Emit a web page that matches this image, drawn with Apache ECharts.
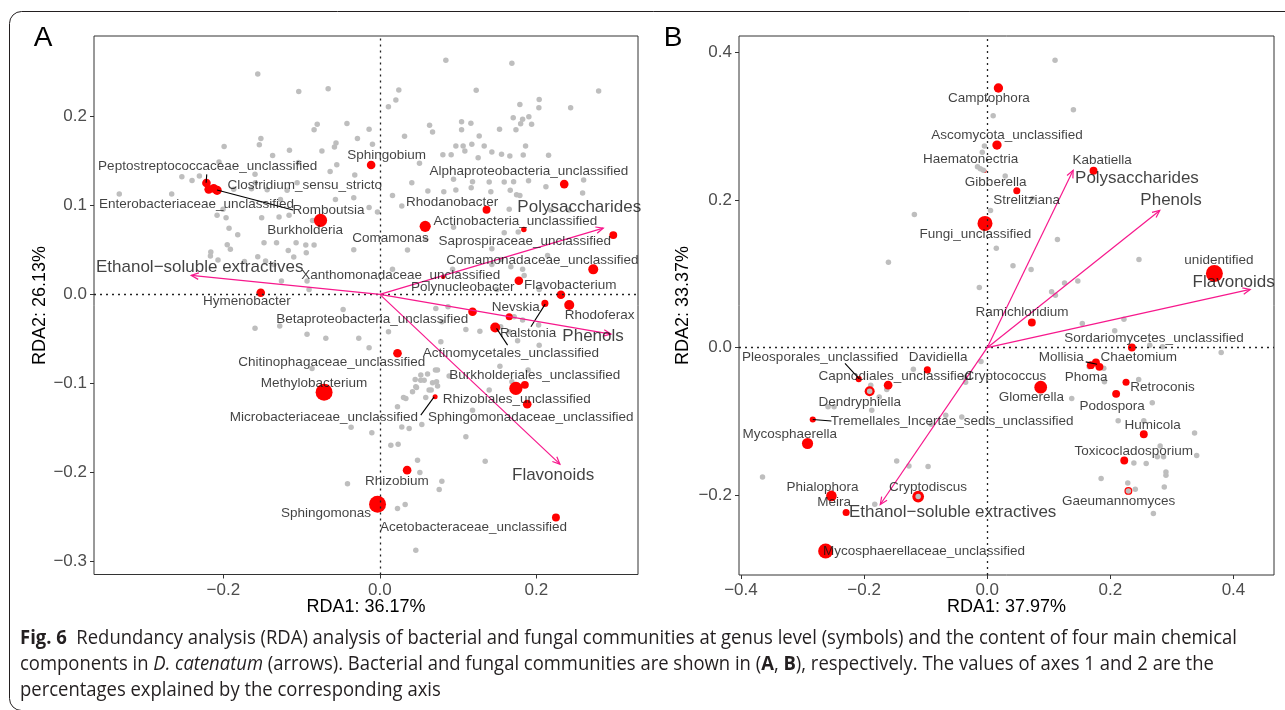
<!DOCTYPE html>
<html><head><meta charset="utf-8">
<script src="https://cdn.jsdelivr.net/npm/echarts@6/dist/echarts.min.js"></script>
<style>html,body{margin:0;padding:0;background:#fff}#c{width:1285px;height:710px}</style>
</head><body><div id="c"></div>
<script>
// ---------------- Panel A (bacteria) ----------------
const grayAx = [-0.156,-0.1036,-0.066,-0.080,-0.084,-0.042,-0.152,-0.154,-0.199,-0.056,-0.058,-0.0286,-0.1155,-0.137,-0.104,-0.074,-0.055,-0.0635,-0.032,-0.2055,-0.253,-0.240,-0.2306,-0.1595,-0.159,-0.333,-0.266,-0.213,-0.1867,-0.164,-0.144,-0.1185,-0.1057,-0.0567,-0.0333,-0.127,-0.208,-0.2004,-0.1965,-0.1927,-0.1816,-0.151,-0.1288,-0.116,-0.086,-0.195,-0.191,-0.216,-0.2165,-0.2068,-0.148,-0.132,-0.117,-0.107,-0.0946,-0.084,-0.094,-0.110,-0.156,-0.146,-0.173,-0.1257,-0.0904,-0.0333,-0.1355,-0.093,
0.0844,0.1688,0.0243,0.0205,0.011,0.1232,0.2797,0.2037,0.2033,0.179,0.2439,0.1705,0.1825,0.1905,0.180,0.194,0.174,0.153,0.1164,0.1045,0.0636,0.1045,0.0674,0.0316,0.0972,0.1065,0.1176,0.1087,0.0912,0.0806,0.1257,0.1334,0.1432,0.1556,0.1662,0.1833,0.1863,0.2157,0.0507,0.0409,0.0942,0.1185,0.1398,0.159,0.171,0.1901,0.2123,0.2605,0.2592,0.0614,0.0818,0.0972,0.1168,0.1419,0.1667,0.1748,0.179,0.0162,0.0281,-0.0137,-0.003,0.1654,0.2187,0.2417,0.0942,0.159,0.1769,0.0588,0.0354,0.1432,0.2144,0.1547,0.1675,0.1432,0.1825,0.1845,0.093,0.0162,0.1496,0.2037,-0.0137,-0.0094,0.127,
-0.0469,-0.1595,-0.1279,-0.093,-0.069,-0.0269,-0.0866,-0.0367,-0.0413,
0.0716,0.110,0.1279,0.0111,-0.0137,0.1761,0.2037,0.1825,0.1717,0.1654,0.1535,0.0737,0.061,0.0524,0.0452,0.0567,0.0674,0.0725,0.046,0.063,0.0418,0.0303,0.0886,0.1398,0.1688,0.1185,0.0226,0.0537,0.0281,0.0375,-0.0102,0.0141,0.0234,0.110,0.0482,0.1347,0.0512,0.0793,0.0759,0.0226,0.0324,0.046,0.078,
0.0523,0.0469,0.0657,0.0738,0.0587,0.0711,0.0333,0.203,0.1545,0.1895,0.0872,0.0793];
const grayAy = [0.2475,0.228,0.231,0.191,0.185,0.192,0.175,0.168,0.166,0.170,0.1655,0.175,0.162,0.156,0.148,0.161,0.1456,0.138,0.134,0.1487,0.132,0.128,0.133,0.135,0.1254,0.1127,0.1127,0.1187,0.118,0.1187,0.1175,0.117,0.1254,0.1067,0.1085,0.1067,0.0888,0.0955,0.086,0.0742,0.067,0.086,0.0869,0.089,0.083,0.0557,0.0506,0.0475,0.043,0.0385,0.058,0.058,0.0494,0.058,0.0554,0.0554,0.0467,0.042,0.0422,0.0374,0.037,0.0149,0.0056,0.050,0.0337,0.0149,
0.263,0.2596,0.2295,0.2183,0.2108,0.2292,0.2284,0.219,0.2097,0.2134,0.2097,0.1984,0.1966,0.1996,0.1917,0.191,0.185,0.1854,0.1921,0.194,0.1899,0.1849,0.1824,0.1775,0.1666,0.1666,0.1685,0.161,0.1569,0.1569,0.1535,0.1666,0.1599,0.1573,0.1554,0.1565,0.1666,0.1562,0.1472,0.1254,0.1292,0.1265,0.1262,0.1262,0.1265,0.1277,0.1209,0.1284,0.1138,0.1161,0.1153,0.1172,0.1198,0.1153,0.1169,0.112,0.1112,0.1112,0.0992,0.0977,0.0925,0.0955,0.0947,0.0947,0.0753,0.0692,0.070,0.0618,0.0498,0.0512,0.0438,0.0393,0.031,0.0337,0.0281,0.0213,0.0281,0.0281,0.0056,0.0056,0.1854,0.1685,0.1779,
-0.0169,-0.0379,-0.0356,-0.0449,-0.0494,-0.0494,-0.0831,-0.1491,-0.2128,
-0.0158,-0.0393,-0.0413,-0.042,-0.060,-0.0521,-0.057,-0.0289,-0.0251,-0.042,-0.0806,-0.085,-0.0895,-0.0906,-0.0955,-0.0963,-0.0993,-0.0982,-0.1038,-0.1075,-0.1094,-0.1157,-0.0918,-0.1075,-0.0982,-0.130,-0.1263,-0.146,-0.1488,-0.1506,-0.1555,-0.1693,-0.1682,-0.160,-0.1862,-0.1873,-0.200,-0.2098,-0.2191,-0.2404,-0.236,-0.2873,-0.0533,
-0.0963,-0.1045,-0.1075,-0.103,-0.1157,-0.085,-0.1169,-0.0345,-0.0364,-0.085,-0.0139,-0.0307];

const redAnames = ['Peptostreptococcaceae_unclassified','Enterobacteriaceae_unclassified','Clostridium_sensu_stricto','Romboutsia','Burkholderia','Hymenobacter','Sphingobium','Alphaproteobacteria_unclassified','Rhodanobacter','Comamonas','Actinobacteria_unclassified','Saprospiraceae_unclassified','Comamonadaceae_unclassified','Xanthomonadaceae_unclassified','Polynucleobacter','Flavobacterium','Nevskia','Ralstonia','Rhodoferax','Betaproteobacteria_unclassified','Actinomycetales_unclassified','Chitinophagaceae_unclassified','Methylobacterium','Burkholderiales_unclassified','Rhizobiales_unclassified','Sphingomonadaceae_unclassified','Microbacteriaceae_unclassified','Rhizobium','Sphingomonas','Acetobacteraceae_unclassified'];
const redAx = [-0.2216,-0.2187,-0.2123,-0.2080,-0.0758,-0.1522,-0.0111,0.2357,0.1364,0.058,0.1841,0.2984,0.2728,0.081,0.1777,0.2315,0.1654,0.211,0.2421,0.1185,0.1475,0.0226,-0.0712,0.1739,0.1854,0.1884,0.0707,0.0349,-0.0029,0.2251];
const redAy = [0.1251,0.118,0.1191,0.1169,0.0831,0.0018,0.1453,0.1239,0.0951,0.0764,0.073,0.0666,0.0281,0.0198,0.0153,-0.0004,-0.0251,-0.0101,-0.012,-0.0195,-0.0371,-0.0661,-0.1098,-0.1056,-0.1016,-0.1233,-0.115,-0.1974,-0.2356,-0.2506];
const redAabund = [3,3,3,3.5,7,3,3,3,2.5,5,1.2,2.5,4,0.8,3,3,2,2,4,3,4,3,11.5,7,2.5,3,1,3,11.5,2.5];
const labAx = [-0.22,-0.2343,-0.0959,-0.0656,-0.0955,-0.170,0.0087,0.1905,0.0925,0.0136,0.1733,0.1852,0.2078,0.0267,0.1061,0.2434,0.1739,0.1895,0.281,-0.0096,0.1675,-0.0614,-0.0841,0.198,0.175,0.1929,-0.0715,0.0217,-0.0688,0.1198];
const labAy = [0.1434,0.1011,0.1228,0.0944,0.0719,-0.0075,0.1562,0.1385,0.104,0.0625,0.0816,0.0591,0.0385,0.0217,0.0079,0.0104,-0.0146,-0.0438,-0.0233,-0.0278,-0.0656,-0.0768,-0.0993,-0.091,-0.1173,-0.1382,-0.1375,-0.2094,-0.2461,-0.2611];
const leaderA = [[-0.2212,0.1348,-0.2220,0.1254],[-0.2081,0.1172,-0.1109,0.0947],[0.2114,-0.0109,0.1931,-0.0364],[0.1492,-0.0382,0.1633,-0.057],[0.0694,-0.1151,0.0524,-0.1356]];

const envNames = ['Ethanol\u2212soluble extractives','Polysaccharides','Phenols','Flavonoids'];
const envAx = [-0.241,0.2856,0.2954,0.2302];
const envAy = [0.0213,0.0745,-0.0446,-0.1907];
const envLabAx = [-0.2302,0.2549,0.2726,0.2215];
const envLabAy = [0.0307,0.0978,-0.0476,-0.203];

// ---------------- Panel B (fungi) ----------------
const grayBx = [0.1102,0.140,0.0097,-0.0045,-0.008,-0.0158,-0.0112,0.0292,0.0736,0.0054,-0.1183,0.1141,0.0148,-0.1604,0.2465,0.0419,0.0713,0.1472,0.1256,-0.0128,0.1046,0.1108,
0.1545,0.2071,0.2221,0.2847,0.264,0.380,-0.0101,-0.1199,0.1656,0.1894,0.1904,0.246,-0.1891,-0.1753,-0.1631,-0.0351,-0.0367,-0.0673,-0.0413,-0.0911,-0.1875,-0.2585,-0.2486,0.1373,0.2681,0.2127,0.2543,0.3368,0.2809,0.2864,0.2763,0.3402,0.2382,0.2582,0.2903,0.2903,0.185,0.2283,0.2405,0.2876,0.2699,-0.3649,-0.147,-0.1271,-0.096,-0.1826];
const grayBy = [0.3894,0.3224,0.3143,0.2732,0.2647,0.2452,0.2425,0.2325,0.2023,0.186,0.1806,0.1467,0.1349,0.1159,0.1196,0.1109,0.106,0.0902,0.0875,0.0816,0.0757,0.0712,
0.0328,0.0228,0.0386,0.0011,0.0034,-0.0065,-0.0187,-0.0292,-0.026,-0.0278,-0.0463,-0.0431,-0.0508,-0.0667,-0.0567,-0.0468,-0.0404,-0.0915,-0.0938,-0.1037,-0.0847,-0.0802,-0.0802,-0.0689,-0.0748,-0.0992,-0.0992,-0.1155,-0.1331,-0.148,-0.148,-0.1462,-0.1562,-0.157,-0.1684,-0.1729,-0.1774,-0.1833,-0.1919,-0.1887,-0.2248,-0.1752,-0.1535,-0.1603,-0.1611,-0.2122];
// grey genera that sit on top of a red one (drawn above it)
const grayTopBx = [-0.0062,-0.1909,-0.1121,0.2293];
const grayTopBy = [0.2403,-0.059,-0.2018,-0.1941];

const redBnames = ['Camptophora','Ascomycota_unclassified','Haematonectria','Gibberella','Kabatiella','Strelitziana','Fungi_unclassified','unidentified','Ramichloridium','Sordariomycetes_unclassified','Mollisia','Chaetomium','Phoma','Retroconis','Podospora','Humicola','Toxicocladosporium','Gaeumannomyces','Glomerella','Davidiella','Cryptococcus','Capnodiales_unclassified','Pleosporales_unclassified','Dendryphiella','Tremellales_Incertae_sedis_unclassified','Mycosphaerella','Phialophora','Meira','Cryptodiscus','Mycosphaerellaceae_unclassified'];
const redBx = [0.0182,0.0159,-0.0062,-0.004,0.1727,0.0481,-0.0036,0.369,0.0725,0.235,0.1766,0.1823,0.1683,0.2255,0.2094,0.2543,0.2226,0.2293,0.0869,-0.0972,-0.0101,-0.1609,-0.2086,-0.1909,-0.2833,-0.2918,-0.253,-0.2291,-0.1121,-0.2624];
const redBy = [0.3519,0.2746,0.2403,0.2393,0.2397,0.2126,0.1684,0.1006,0.0341,0.0003,-0.0201,-0.026,-0.0237,-0.0468,-0.0626,-0.1173,-0.153,-0.1941,-0.0536,-0.0301,-0.0187,-0.0508,-0.0427,-0.059,-0.0974,-0.1299,-0.2009,-0.2235,-0.2018,-0.2755];
const redBabund = [3.5,3.5,0.6,0.6,2.5,2,9,11.5,2.5,2.5,2.5,2.5,2.5,2,2.5,2.5,2.5,2.5,6.5,2,0,3,1.5,4,1.5,5,4.5,2,5.5,9];
const labBx = [0.0029,0.0323,-0.027,0.0137,0.1867,0.0642,-0.0193,0.3763,0.0566,0.2709,0.1202,0.246,0.1608,0.2847,0.2029,0.2687,0.2381,0.2135,0.0718,-0.0797,0.0297,-0.1495,-0.2713,-0.207,-0.057,-0.3208,-0.2676,-0.2487,-0.0963,-0.1027];
const labBy = [0.3379,0.2881,0.2552,0.2248,0.2542,0.1991,0.1543,0.1186,0.0477,0.0125,-0.0133,-0.0133,-0.0404,-0.0531,-0.0789,-0.1051,-0.1399,-0.2081,-0.0667,-0.0133,-0.0386,-0.0386,-0.0133,-0.0735,-0.0992,-0.1173,-0.1887,-0.2099,-0.1896,-0.2755];
const leaderB = [[-0.231,-0.0214,-0.2078,-0.0423],[-0.2833,-0.0974,-0.253,-0.0993],[0.16,-0.0193,0.1784,-0.0224]];

const envBx = [-0.1737,0.1396,0.2803,0.4271];
const envBy = [-0.2126,0.2403,0.186,0.0789];
const envLabBx = [-0.0561,0.2432,0.2986,0.4003];
const envLabBy = [-0.2235,0.2289,0.2,0.0879];

// tick labels
const ticksAx = [-0.2,0,0.2];
const ticksAy = [-0.3,-0.2,-0.1,0,0.1,0.2];
const ticksBx = [-0.4,-0.2,0,0.2,0.4];
const ticksBy = [-0.2,0,0.2,0.4];
const axisTitles = {ax:'RDA1: 36.17%', ay:'RDA2: 26.13%', bx:'RDA1: 37.97%', by:'RDA2: 33.37%'};

// ---------------- chart ----------------
const PINK = '#f7188c', GREY = '#bebebe', RED = '#ff0000';
const FF = '"Liberation Sans", Arial, sans-serif';
function fmt(v){ const s = Math.abs(v).toFixed(1); return (v < -1e-9 ? '\u2212' : '') + s; }
function zip(xs, ys){ return xs.map((x,i)=>[x, ys[i]]); }
function mkAxis(gi, min, max, ticks){
  return {gridIndex:gi, type:'value', min, max, scale:true,
    axisLine:{show:false, onZero:false}, splitLine:{show:false},
    axisTick:{show:true, length:4, lineStyle:{color:'#333', width:1}, customValues:ticks},
    axisLabel:{customValues:ticks, formatter:fmt, color:'#4d4d4d', fontSize:17, fontFamily:FF, margin:7}};
}
function graySeries(i, xs, ys, z){
  return {type:'scatter', xAxisIndex:i, yAxisIndex:i, z:z||2, silent:true, symbolSize:5.5,
    itemStyle:{color:GREY, opacity:1}, data:zip(xs, ys),
    markLine: z ? undefined : {silent:true, symbol:'none', label:{show:false}, animation:false,
      lineStyle:{color:'#222', type:[2,4], width:1.3}, data:[{xAxis:0},{yAxis:0}]}};
}
function redSeries(i, names, xs, ys, ab){
  return {type:'scatter', xAxisIndex:i, yAxisIndex:i, z:3, silent:true, itemStyle:{color:RED, opacity:1},
    data: xs.map((x,k)=>({name:names[k], value:[x, ys[k]], symbolSize:5*Math.sqrt(ab[k])}))};
}
function labelSeries(i, names, xs, ys, size){
  return {type:'scatter', xAxisIndex:i, yAxisIndex:i, z:7, silent:true, symbolSize:1,
    itemStyle:{color:'rgba(0,0,0,0)'},
    label:{show:true, position:'inside', formatter:'{b}', color:'#111', fontSize:size, fontFamily:FF},
    data: xs.map((x,k)=>({name:names[k], value:[x, ys[k]]}))};
}
function leaderSeries(i, segs){
  return {type:'custom', xAxisIndex:i, yAxisIndex:i, z:4, silent:true, data:segs,
    renderItem(p, api){
      const a = api.coord([api.value(0), api.value(1)]), b = api.coord([api.value(2), api.value(3)]);
      return {type:'line', shape:{x1:a[0], y1:a[1], x2:b[0], y2:b[1]}, style:{stroke:'#000', lineWidth:1.1}};
    }};
}
function arrowSeries(i, xs, ys){
  return {type:'custom', xAxisIndex:i, yAxisIndex:i, z:5, silent:true, data:zip(xs, ys),
    renderItem(p, api){
      const o = api.coord([0,0]), t = api.coord([api.value(0), api.value(1)]);
      const ang = Math.atan2(t[1]-o[1], t[0]-o[0]), L = 8, a = Math.PI/7.5;
      const p1 = [t[0]-L*Math.cos(ang-a), t[1]-L*Math.sin(ang-a)];
      const p2 = [t[0]-L*Math.cos(ang+a), t[1]-L*Math.sin(ang+a)];
      const st = {stroke:PINK, lineWidth:1.2, fill:null};
      return {type:'group', children:[
        {type:'line', shape:{x1:o[0], y1:o[1], x2:t[0], y2:t[1]}, style:st},
        {type:'polyline', shape:{points:[p1, t, p2]}, style:st}]};
    }};
}

// caption sizing (condensed, fitted to the reference width)
const ctx = document.createElement('canvas').getContext('2d');
const CAPF = '"Open Sans", "Noto Sans", sans-serif';
const CS = 20;
function tw(font, t){ ctx.font = font; return ctx.measureText(t).width; }
const cap1a = 'Fig. 6', cap1b = '  Redundancy analysis (RDA) analysis of bacterial and fungal communities at genus level (symbols) and the content of four main chemical';
const capW = tw('bold ' + CS + 'px ' + CAPF, cap1a) + tw(CS + 'px ' + CAPF, cap1b);
const SX = 1217 / capW;
const rich = {
  b:{fontSize:CS, fontWeight:'bold', fontFamily:CAPF, fill:'#231f20'},
  n:{fontSize:CS, fontFamily:CAPF, fill:'#231f20'},
  i:{fontSize:CS, fontStyle:'italic', fontFamily:CAPF, fill:'#231f20'}
};
function capText(y, txt){
  return {type:'text', x:20, y, scaleX:SX, silent:true,
    style:{text:txt, rich, verticalAlign:'middle', align:'left'}};
}
function title(x, y, txt, rot, size){
  return {type:'text', x, y, rotation:rot||0, silent:true,
    style:{text:txt, fontSize:size||18, fontFamily:FF, fill:'#000', align:'center', verticalAlign:'middle'}};
}

const chart = echarts.init(document.getElementById('c'));
chart.setOption({
  animation:false,
  backgroundColor:'#fff',
  grid:[
    {left:94, top:36, width:544, height:538.5, show:true, borderColor:'#333', borderWidth:1},
    {left:739, top:36, width:535, height:539, show:true, borderColor:'#333', borderWidth:1}
  ],
  xAxis:[mkAxis(0,-0.3653,0.330,ticksAx), mkAxis(1,-0.4031,0.4658,ticksBx)],
  yAxis:[mkAxis(0,-0.3146,0.2902,ticksAy), mkAxis(1,-0.3081,0.4224,ticksBy)],
  series:[
    graySeries(0, grayAx, grayAy),
    redSeries(0, redAnames, redAx, redAy, redAabund),
    leaderSeries(0, leaderA),
    arrowSeries(0, envAx, envAy),
    labelSeries(0, redAnames, labAx, labAy, 13.5),
    labelSeries(0, envNames, envLabAx, envLabAy, 17),
    graySeries(1, grayBx, grayBy),
    redSeries(1, redBnames, redBx, redBy, redBabund),
    graySeries(1, grayTopBx, grayTopBy, 4),
    leaderSeries(1, leaderB),
    arrowSeries(1, envBx, envBy),
    labelSeries(1, redBnames, labBx, labBy, 13.5),
    labelSeries(1, envNames, envLabBx, envLabBy, 17)
  ],
  graphic:[
    {type:'rect', silent:true, shape:{x:9.5, y:11.5, width:1300, height:699, r:12}, style:{fill:'none', stroke:'#231f20', lineWidth:1}},
    title(43, 38, 'A', 0, 28),
    title(673, 38, 'B', 0, 28),
    title(366, 607, axisTitles.ax),
    title(40, 305.5, axisTitles.ay, Math.PI/2),
    title(1006.5, 607, axisTitles.bx),
    title(683, 305.5, axisTitles.by, Math.PI/2),
    capText(638, '{b|' + cap1a + '}{n|' + cap1b + '}'),
    capText(664, '{n|components in }{i|D. catenatum}{n| (arrows). Bacterial and fungal communities are shown in (}{b|A}{n|, }{b|B}{n|), respectively. The values of axes 1 and 2 are the}'),
    capText(690, '{n|percentages explained by the corresponding axis}')
  ]
});
</script>
</body></html>
